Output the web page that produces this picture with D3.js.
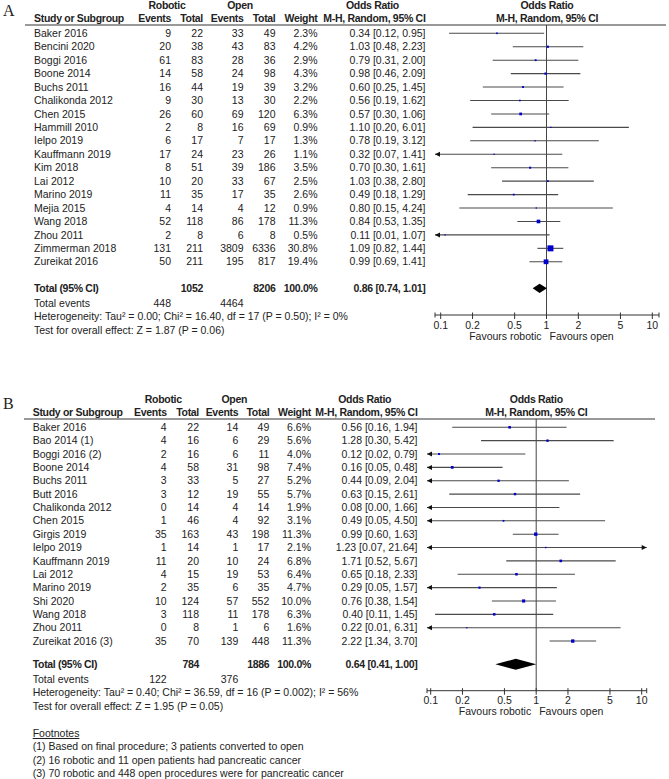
<!DOCTYPE html>
<html>
<head>
<meta charset="utf-8">
<script src="https://cdn.jsdelivr.net/npm/d3@7"></script>
<style>
  body { margin: 0; background: #fff; }
  svg text { font-family: "Liberation Sans", Arial, sans-serif; fill: #222; }
</style>
</head>
<body>
<div id="chart"></div>
<script>
// ---- panel A data (overall conversion) ----
const studiesA = ["Baker 2016", "Bencini 2020", "Boggi 2016", "Boone 2014", "Buchs 2011", "Chalikonda 2012",
  "Chen 2015", "Hammill 2010", "Ielpo 2019", "Kauffmann 2019", "Kim 2018", "Lai 2012", "Marino 2019",
  "Mejia 2015", "Wang 2018", "Zhou 2011", "Zimmerman 2018", "Zureikat 2016"];
const robEventsA = [9, 20, 61, 14, 16, 9, 26, 2, 6, 17, 8, 10, 11, 4, 52, 2, 131, 50];
const robTotalA = [22, 38, 83, 58, 44, 30, 60, 8, 17, 24, 51, 20, 35, 14, 118, 8, 211, 211];
const openEventsA = [33, 43, 28, 24, 19, 13, 69, 16, 7, 23, 39, 33, 17, 4, 86, 6, 3809, 195];
const openTotalA = [49, 83, 36, 98, 39, 30, 120, 69, 17, 26, 186, 67, 35, 12, 178, 8, 6336, 817];
const weightA = [2.3, 4.2, 2.9, 4.3, 3.2, 2.2, 6.3, 0.9, 1.3, 1.1, 3.5, 2.5, 2.6, 0.9, 11.3, 0.5, 30.8, 19.4];
const orA = [0.34, 1.03, 0.79, 0.98, 0.60, 0.56, 0.57, 1.10, 0.78, 0.32, 0.70, 1.03, 0.49, 0.80, 0.84, 0.11, 1.09, 0.99];
const loA = [0.12, 0.48, 0.31, 0.46, 0.25, 0.19, 0.30, 0.20, 0.19, 0.07, 0.30, 0.38, 0.18, 0.15, 0.53, 0.01, 0.82, 0.69];
const hiA = [0.95, 2.23, 2.00, 2.09, 1.45, 1.62, 1.06, 6.01, 3.12, 1.41, 1.61, 2.80, 1.29, 4.24, 1.35, 1.07, 1.44, 1.41];
const totalA = { rob: 1052, open: 8206, robEv: 448, openEv: 4464, or: 0.86, lo: 0.74, hi: 1.01 };
const statsA = ["Heterogeneity: Tau² = 0.00; Chi² = 16.40, df = 17 (P = 0.50); I² = 0%",
  "Test for overall effect: Z = 1.87 (P = 0.06)"];

// ---- panel B data ----
const studiesB = ["Baker 2016", "Bao 2014 (1)", "Boggi 2016 (2)", "Boone 2014", "Buchs 2011", "Butt 2016",
  "Chalikonda 2012", "Chen 2015", "Girgis 2019", "Ielpo 2019", "Kauffmann 2019", "Lai 2012", "Marino 2019",
  "Shi 2020", "Wang 2018", "Zhou 2011", "Zureikat 2016 (3)"];
const robEventsB = [4, 4, 2, 4, 3, 3, 0, 1, 35, 1, 11, 4, 2, 10, 3, 0, 35];
const robTotalB = [22, 16, 16, 58, 33, 12, 14, 46, 163, 14, 20, 15, 35, 124, 118, 8, 70];
const openEventsB = [14, 6, 6, 31, 5, 19, 4, 4, 43, 1, 10, 19, 6, 57, 11, 1, 139];
const openTotalB = [49, 29, 11, 98, 27, 55, 14, 92, 198, 17, 24, 53, 35, 552, 178, 6, 448];
const weightB = [6.6, 5.6, 4.0, 7.4, 5.2, 5.7, 1.9, 3.1, 11.3, 2.1, 6.8, 6.4, 4.7, 10.0, 6.3, 1.6, 11.3];
const orB = [0.56, 1.28, 0.12, 0.16, 0.44, 0.63, 0.08, 0.49, 0.99, 1.23, 1.71, 0.65, 0.29, 0.76, 0.40, 0.22, 2.22];
const loB = [0.16, 0.30, 0.02, 0.05, 0.09, 0.15, 0.00, 0.05, 0.60, 0.07, 0.52, 0.18, 0.05, 0.38, 0.11, 0.01, 1.34];
const hiB = [1.94, 5.42, 0.79, 0.48, 2.04, 2.61, 1.66, 4.50, 1.63, 21.64, 5.67, 2.33, 1.57, 1.54, 1.45, 6.31, 3.70];
const totalB = { rob: 784, open: 1886, robEv: 122, openEv: 376, or: 0.64, lo: 0.41, hi: 1.00 };
const statsB = ["Heterogeneity: Tau² = 0.40; Chi² = 36.59, df = 16 (P = 0.002); I² = 56%",
  "Test for overall effect: Z = 1.95 (P = 0.05)"];
const footnotesB = ["(1) Based on final procedure; 3 patients converted to open",
  "(2) 16 robotic and 11 open patients had pancreatic cancer",
  "(3) 70 robotic and 448 open procedures were for pancreatic cancer"];

const tickValues = [0.1, 0.2, 0.5, 1, 2, 5, 10];
const headColor = "#2f4a6a";

const svg = d3.select("#chart").append("svg")
  .attr("width", 669).attr("height", 779);

const f2 = d3.format(".2f");
const f1 = d3.format(".1f");

function txt(g, x, y, s, anchor, bold) {
  return g.append("text")
    .attr("x", x).attr("y", y)
    .attr("dy", "0.35em")
    .attr("text-anchor", anchor || "start")
    .attr("font-size", 10.5)
    .attr("letter-spacing", bold ? -0.3 : null)
    .attr("font-weight", bold ? "bold" : null)
    .attr("fill", bold ? headColor : null)
    .text(s);
}

function drawPanel(c, d) {
  const g = svg.append("g");

  g.append("text").attr("x", 3).attr("y", c.letterY)
    .style("font-family", "'Liberation Serif', serif")
    .attr("font-size", 16).text(c.letter);

  // headers
  txt(g, c.robHead, c.h1, "Robotic", "middle", true);
  txt(g, c.openHead, c.h1, "Open", "middle", true);
  txt(g, c.orHead1, c.h1, "Odds Ratio", "middle", true);
  txt(g, c.plotMid, c.h1, "Odds Ratio", "middle", true);
  txt(g, c.col.name, c.h2, "Study or Subgroup", "start", true);
  txt(g, c.col.robE, c.h2, "Events", "end", true);
  txt(g, c.col.robT, c.h2, "Total", "end", true);
  txt(g, c.col.opE, c.h2, "Events", "end", true);
  txt(g, c.col.opT, c.h2, "Total", "end", true);
  txt(g, c.col.w, c.h2, "Weight", "end", true);
  txt(g, c.col.or, c.h2, "M-H, Random, 95% CI", "end", true);
  txt(g, c.plotMid, c.h2, "M-H, Random, 95% CI", "middle", true);

  g.append("line")
    .attr("x1", c.lineX0).attr("x2", c.lineX1)
    .attr("y1", c.hLine).attr("y2", c.hLine)
    .attr("stroke", "#777").attr("stroke-width", 1.3);

  const x = d3.scaleLog().domain([0.1, 10]).range([c.x01, c.x10]);
  const xMin = x.invert(c.axisX0), xMax = x.invert(c.axisX1);
  const y = i => c.row0 + i * c.rowStep;

  // vertical line at OR = 1
  g.append("line")
    .attr("x1", x(1)).attr("x2", x(1))
    .attr("y1", c.hLine).attr("y2", c.axisY)
    .attr("stroke", "#444").attr("stroke-width", 1);

  d.studies.forEach((s, i) => {
    const yy = y(i);
    txt(g, c.col.name, yy, s);
    txt(g, c.col.robE, yy, d.robE[i], "end");
    txt(g, c.col.robT, yy, d.robT[i], "end");
    txt(g, c.col.opE, yy, d.opE[i], "end");
    txt(g, c.col.opT, yy, d.opT[i], "end");
    txt(g, c.col.w, yy, f1(d.w[i]) + "%", "end");
    txt(g, c.col.or, yy, `${f2(d.or[i])} [${f2(d.lo[i])}, ${f2(d.hi[i])}]`, "end");

    const lo = Math.max(d.lo[i], xMin), hi = Math.min(d.hi[i], xMax);
    g.append("line")
      .attr("x1", x(lo)).attr("x2", x(hi))
      .attr("y1", yy).attr("y2", yy)
      .attr("stroke", "#4a4a4a").attr("stroke-width", 1.1);
    if (d.lo[i] < xMin) {
      const ax = x(xMin);
      g.append("path").attr("d", `M${ax},${yy}L${ax + 5},${yy - 2.5}L${ax + 5},${yy + 2.5}Z`).attr("fill", "#111");
    }
    if (d.hi[i] > xMax) {
      const ax = x(xMax);
      g.append("path").attr("d", `M${ax},${yy}L${ax - 5},${yy - 2.5}L${ax - 5},${yy + 2.5}Z`).attr("fill", "#111");
    }
    if (d.or[i] >= xMin && d.or[i] <= xMax) {
      const sz = Math.max(1.3, c.sq * Math.sqrt(d.w[i]));
      g.append("rect")
        .attr("x", x(d.or[i]) - sz / 2).attr("y", yy - sz / 2)
        .attr("width", sz).attr("height", sz)
        .attr("fill", "#0000cc");
    }
  });

  // total row
  const t = d.total;
  txt(g, c.col.name, c.totalY, "Total (95% CI)", "start", true);
  txt(g, c.col.robT, c.totalY, t.rob, "end", true);
  txt(g, c.col.opT, c.totalY, t.open, "end", true);
  txt(g, c.col.w, c.totalY, "100.0%", "end", true);
  txt(g, c.col.or, c.totalY, `${f2(t.or)} [${f2(t.lo)}, ${f2(t.hi)}]`, "end", true).attr("fill", "#3d4550");
  const dh = c.diamondH;
  g.append("path")
    .attr("d", `M${x(t.lo)},${c.totalY}L${x(t.or)},${c.totalY - dh}L${x(t.hi)},${c.totalY}L${x(t.or)},${c.totalY + dh}Z`)
    .attr("fill", "#000");

  txt(g, c.col.name, c.eventsY, "Total events");
  txt(g, c.col.robE, c.eventsY, t.robEv, "end");
  txt(g, c.col.opE, c.eventsY, t.openEv, "end");
  d.stats.forEach((s, i) => txt(g, c.col.name, c.eventsY + (i + 1) * c.statStep, s));

  // axis
  const ax = g.append("g");
  ax.append("line")
    .attr("x1", c.axisX0).attr("x2", c.axisX1)
    .attr("y1", c.axisY).attr("y2", c.axisY)
    .attr("stroke", "#333");
  ax.selectAll(".tk").data(tickValues).join("line")
    .attr("x1", v => x(v)).attr("x2", v => x(v))
    .attr("y1", c.axisY - 2.5).attr("y2", c.axisY + 4)
    .attr("stroke", "#333");
  [c.axisX0, c.axisX1].forEach(px => ax.append("line")
    .attr("x1", px).attr("x2", px).attr("y1", c.axisY - 2.5).attr("y2", c.axisY + 2.5)
    .attr("stroke", "#333"));
  ax.selectAll(".tl").data(tickValues).join("text")
    .attr("x", v => x(v)).attr("y", c.axisY + 10)
    .attr("dy", "0.35em").attr("text-anchor", "middle")
    .attr("font-size", 10.5)
    .text(v => v);
  txt(g, x(1) - 5, c.axisY + 21, "Favours robotic", "end");
  txt(g, x(1) + 3, c.axisY + 21, "Favours open", "start");

  if (d.footnotes) {
    txt(g, c.col.name, c.footY, "Footnotes").attr("text-decoration", "underline");
    d.footnotes.forEach((s, i) => txt(g, c.col.name, c.footY + (i + 1) * c.statStep, s));
  }
}

drawPanel({
  letter: "A", letterY: 16,
  h1: 5.5, h2: 18.5, hLine: 25, lineX0: 25, lineX1: 666,
  robHead: 167, openHead: 240, orHead1: 372.5, plotMid: 547,
  col: { name: 34, robE: 171, robT: 203, opE: 243.5, opT: 275.5, w: 317.5, or: 425.5 },
  row0: 33.3, rowStep: 13.44, totalY: 288.3, eventsY: 303.3, statStep: 13.4,
  x01: 440.7, x10: 652.3, axisX0: 435, axisX1: 659, axisY: 315,
  sq: 1.08, diamondH: 4.6
}, {
  studies: studiesA, robE: robEventsA, robT: robTotalA, opE: openEventsA, opT: openTotalA,
  w: weightA, or: orA, lo: loA, hi: hiA, total: totalA, stats: statsA
});

drawPanel({
  letter: "B", letterY: 409,
  h1: 399, h2: 412.7, hLine: 419, lineX0: 24, lineX1: 655,
  robHead: 163.3, openHead: 234.3, orHead1: 364.7, plotMid: 536.3,
  col: { name: 32.7, robE: 166.7, robT: 199, opE: 238.3, opT: 269.3, w: 311, or: 417.5 },
  row0: 427.3, rowStep: 13.36, totalY: 664.3, eventsY: 679.3, statStep: 13.4,
  x01: 430.7, x10: 641.7, axisX0: 427, axisX1: 646.7, axisY: 690.7,
  sq: 1.0, diamondH: 5.5, footY: 733.3
}, {
  studies: studiesB, robE: robEventsB, robT: robTotalB, opE: openEventsB, opT: openTotalB,
  w: weightB, or: orB, lo: loB, hi: hiB, total: totalB, stats: statsB, footnotes: footnotesB
});
</script>
</body>
</html>
